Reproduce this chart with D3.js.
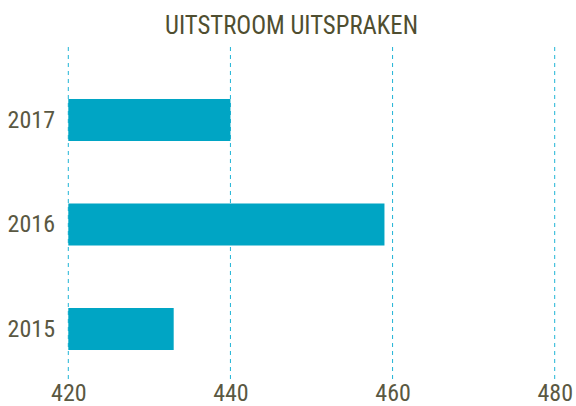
<!DOCTYPE html>
<html><head><meta charset="utf-8">
<script src="https://cdn.jsdelivr.net/npm/d3@7"></script>
<style>body{margin:0;background:#fff}svg{display:block}</style>
</head><body>
<svg id="c" width="576" height="406"></svg>
<script>
const title = "UITSTROOM UITSPRAKEN";
const categories = ["2017", "2016", "2015"];
const values = [440, 459, 433];
const xTicks = [420, 440, 460, 480];

const svg = d3.select("#c");
const x = d3.scaleLinear().domain([420, 480]).range([68.3, 554.7]);
const y = d3.scaleBand().domain(categories).range([67.75, 381.25]).paddingInner(0.598).paddingOuter(0.299);
const textCol = "#5a5842";
const font = "Roboto Condensed, Liberation Sans Narrow, sans-serif";

svg.append("text").attr("x", 291.5).attr("y", 34).attr("text-anchor", "middle")
  .attr("font-family", font)
  .attr("font-size", 25).attr("fill", "#4f4e30").attr("textLength", 253).attr("lengthAdjust", "spacingAndGlyphs")
  .text(title);

svg.append("g").selectAll("line").data(xTicks).join("line")
  .attr("x1", d => x(d)).attr("x2", d => x(d)).attr("y1", 47).attr("y2", 380)
  .attr("stroke", "#1fb4d6").attr("stroke-width", 1).attr("stroke-dasharray", "4,4");

svg.append("g").selectAll("rect").data(categories).join("rect")
  .attr("x", x(420)).attr("y", d => y(d)).attr("height", y.bandwidth())
  .attr("width", (d, i) => x(values[i]) - x(420)).attr("fill", "#00a5c4");

const xAxis = svg.append("g").attr("transform", "translate(0,380)")
  .call(d3.axisBottom(x).tickValues(xTicks).tickSize(0).tickPadding(4));
xAxis.select(".domain").remove();
xAxis.selectAll("text").attr("font-family", font).attr("font-size", 24).attr("fill", textCol);

const yAxis = svg.append("g").attr("transform", "translate(55,0)")
  .call(d3.axisLeft(y).tickSize(0).tickPadding(0));
yAxis.select(".domain").remove();
yAxis.selectAll("text").attr("font-family", font).attr("font-size", 24).attr("fill", textCol);
</script>
</body></html>
